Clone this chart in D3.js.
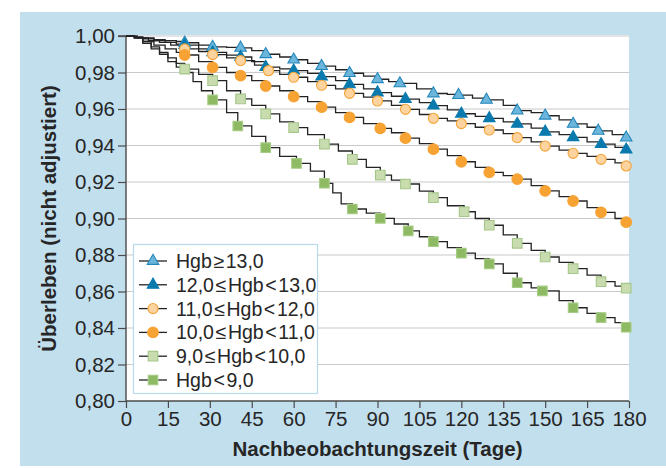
<!DOCTYPE html>
<html>
<head>
<meta charset="utf-8">
<script src="https://cdn.jsdelivr.net/npm/d3@7"></script>
<style>
  body { margin: 0; background: #fff; }
  svg { display: block; }
  text { font-family: "Liberation Sans", Arial, sans-serif; fill: #262626; }
</style>
</head>
<body>
<svg id="chart" width="666" height="468"></svg>
<script>
// Kaplan-Meier curves, days + survival
const days1 = [0,3,6,10,14,18,21,26,31,36,41,45,50,55,60,65,70,75,80,85,90,94,98,104,110,115,119,124,129,135,140,145,150,155,160,165,169,174,179,180];
const surv1 = [1,0.9995,0.999,0.998,0.9975,0.997,0.9963,0.995,0.994,0.9938,0.9935,0.992,0.990,0.9885,0.987,0.985,0.9835,0.9815,0.9796,0.978,0.9763,0.975,0.974,0.971,0.9685,0.968,0.9676,0.966,0.965,0.962,0.9591,0.958,0.9563,0.954,0.9518,0.950,0.948,0.946,0.9443,0.9443];
const marks1 = [21,31,41,50,60,70,80,90,98,110,119,129,140,150,160,169,179];

const days2 = [0,3,6,10,14,18,21,26,31,36,41,45,50,55,60,65,70,75,80,85,90,95,100,105,110,115,120,125,130,135,140,145,150,155,160,165,170,175,179,180];
const surv2 = [1,0.9993,0.9985,0.9975,0.9965,0.9955,0.995,0.993,0.991,0.9895,0.9885,0.986,0.983,0.982,0.981,0.9795,0.9777,0.9755,0.9735,0.971,0.969,0.967,0.9654,0.9635,0.9618,0.9595,0.9574,0.956,0.9549,0.953,0.9518,0.9495,0.9475,0.946,0.9445,0.942,0.9407,0.939,0.9377,0.9377];
const marks2 = [21,31,41,50,60,70,80,90,100,110,120,130,140,150,160,170,179];

const days3 = [0,4,8,12,16,21,26,31,36,41,46,51,55,60,65,70,75,80,85,90,95,100,105,110,115,120,125,130,135,140,145,150,155,160,165,170,175,179,180];
const surv3 = [1,0.999,0.9975,0.9965,0.995,0.9929,0.9915,0.9898,0.988,0.9865,0.984,0.981,0.979,0.9774,0.975,0.973,0.971,0.9686,0.9665,0.9644,0.962,0.9598,0.957,0.9549,0.9535,0.952,0.950,0.9485,0.9465,0.9443,0.942,0.9397,0.9375,0.9357,0.934,0.9324,0.9305,0.9288,0.9288];
const marks3 = [21,31,41,51,60,70,80,90,100,110,120,130,140,150,160,170,179];

const days4 = [0,3,6,10,14,18,21,26,31,36,41,45,50,55,60,65,70,75,80,85,91,95,100,105,110,115,120,125,130,135,140,145,150,155,160,165,170,175,179,180];
const surv4 = [1,0.999,0.997,0.995,0.993,0.991,0.9896,0.986,0.9828,0.980,0.9783,0.9755,0.9726,0.970,0.9668,0.964,0.961,0.958,0.9554,0.952,0.9494,0.947,0.944,0.941,0.938,0.9345,0.9311,0.928,0.9253,0.9235,0.9216,0.918,0.9151,0.912,0.9096,0.906,0.9034,0.900,0.898,0.898];
const marks4 = [21,31,41,50,60,70,80,91,100,110,120,130,140,150,160,170,179];

const days5 = [0,3,6,9,12,15,18,21,26,31,36,41,45,50,55,60,65,71,76,81,86,91,95,100,105,110,115,121,125,130,135,140,145,150,155,160,165,170,175,179,180];
const surv5 = [1,0.999,0.997,0.994,0.991,0.988,0.985,0.9819,0.979,0.9755,0.970,0.9655,0.962,0.9573,0.953,0.9498,0.946,0.9408,0.937,0.9324,0.928,0.9238,0.921,0.9189,0.915,0.9114,0.907,0.9037,0.900,0.8963,0.891,0.8864,0.8825,0.8789,0.876,0.8725,0.869,0.8654,0.863,0.8618,0.8618];
const marks5 = [21,31,41,50,60,71,81,91,100,110,121,130,140,150,160,170,179];

const days6 = [0,3,6,9,12,15,18,21,24,27,31,36,40,45,50,55,61,66,71,74,77,81,86,91,96,101,105,110,115,120,125,130,135,140,145,149,155,160,165,170,175,179,180];
const surv6 = [1,0.999,0.996,0.993,0.990,0.986,0.983,0.980,0.975,0.970,0.965,0.958,0.9507,0.945,0.9388,0.934,0.9302,0.926,0.9193,0.914,0.908,0.9052,0.903,0.9001,0.897,0.8932,0.890,0.8873,0.884,0.881,0.878,0.8751,0.870,0.8648,0.862,0.8603,0.855,0.8511,0.848,0.8457,0.843,0.8404,0.8404];
const marks6 = [31,40,50,61,71,81,91,101,110,120,130,140,149,160,170,179];

const groupLabels = ["Hgb\u200a\u2265\u200a13,0", "12,0\u200a\u2264\u200aHgb\u200a<\u200a13,0", "11,0\u200a\u2264\u200aHgb\u200a<\u200a12,0",
                     "10,0\u200a\u2264\u200aHgb\u200a<\u200a11,0", "9,0\u200a\u2264\u200aHgb\u200a<\u200a10,0", "Hgb\u200a<\u200a9,0"];
const xTicks = [0,15,30,45,60,75,90,105,120,135,150,165,180];
const yTicks = [0.80,0.82,0.84,0.86,0.88,0.90,0.92,0.94,0.96,0.98,1.00];

// marker looks per group
const styles = [
  {shape: d3.symbolTriangle, size: 58, fill: "#6cb6dc", stroke: "#2487bb"},
  {shape: d3.symbolTriangle, size: 58, fill: "#0a7aae", stroke: "#0a7aae"},
  {shape: d3.symbolCircle, size: 80, fill: "#fdd4a0", stroke: "#f4a437"},
  {shape: d3.symbolCircle, size: 90, fill: "#f7a334", stroke: "#f7a334"},
  {shape: d3.symbolSquare, size: 92, fill: "#c9dcb0", stroke: "#a5c788"},
  {shape: d3.symbolSquare, size: 92, fill: "#8dba62", stroke: "#a7cc85"}
];

const series = [
  {days: days1, surv: surv1, marks: marks1},
  {days: days2, surv: surv2, marks: marks2},
  {days: days3, surv: surv3, marks: marks3},
  {days: days4, surv: surv4, marks: marks4},
  {days: days5, surv: surv5, marks: marks5},
  {days: days6, surv: surv6, marks: marks6}
];

var frame = {left: 20, top: 12},
    plot = {left: 126, right: 629, top: 36, bottom: 401};

const svg = d3.select('#chart');

// blue frame + white plot area
svg.append('rect').attr('x', frame.left).attr('y', frame.top)
  .attr('width', 666 - frame.left).attr('height', 468 - frame.top - 2)
  .attr('fill', '#c2dfee');
svg.append('rect').attr('x', plot.left).attr('y', plot.top - 1)
  .attr('width', plot.right - plot.left).attr('height', plot.bottom - plot.top + 1)
  .attr('fill', '#fff');

var x = d3.scaleLinear().domain([0, 180]).range([plot.left, plot.right]);
var y = d3.scaleLinear().domain([0.8, 1.0]).range([plot.bottom, plot.top]);

// gridlines
svg.append('g').selectAll('line')
  .data(yTicks.slice(1))
  .enter().append('line')
  .attr('x1', plot.left).attr('x2', plot.right)
  .attr('y1', d => y(d)).attr('y2', d => y(d))
  .attr('stroke', '#c9c9c9').attr('stroke-width', 1.2);

const fmt = d => d3.format('.2f')(d).replace('.', ',');

// axes
var yAxis = svg.append('g')
  .attr('transform', `translate(${plot.left},0)`)
  .call(d3.axisLeft(y).tickValues(yTicks).tickFormat(fmt).tickSize(8).tickPadding(3));
var xAxis = svg.append('g')
  .attr('transform', `translate(0,${plot.bottom})`)
  .call(d3.axisBottom(x).tickValues(xTicks).tickSize(7).tickPadding(3));

[yAxis, xAxis].forEach(a => {
  a.select('.domain').attr('stroke', '#4a4a4a').attr('stroke-width', 1.4);
  a.selectAll('.tick line').attr('stroke', '#4a4a4a').attr('stroke-width', 1.2);
  a.selectAll('text').attr('font-size', 20.5).attr('fill', '#2a2a2a')
    .attr('font-family', '"Liberation Sans", Arial, sans-serif');
});
yAxis.select('.domain').attr('d', `M-8,${plot.top}H0V${plot.bottom}`);
xAxis.select('.domain').attr('d', `M${plot.left},0H${plot.right}`);

// curves
var line = d3.line().curve(d3.curveStepAfter);
series.forEach(s => {
  svg.append('path')
    .attr('d', line(s.days.map((d, i) => [x(d), y(s.surv[i])])))
    .attr('fill', 'none').attr('stroke', '#232323').attr('stroke-width', 1.3);
});

// markers sit on the step value at their day
series.forEach((s, k) => {
  const st = styles[k];
  svg.append('g').selectAll('path')
    .data(s.marks)
    .enter().append('path')
    .attr('d', d3.symbol().type(st.shape).size(st.size))
    .attr('transform', m => {
      const i = d3.bisectRight(s.days, m) - 1;
      return `translate(${x(m)},${y(s.surv[i])})`;
    })
    .attr('fill', st.fill).attr('stroke', st.stroke).attr('stroke-width', 1.1);
});

// legend
var legend = svg.append('g');
legend.append('rect').attr('x', 133.5).attr('y', 244.5).attr('width', 184).attr('height', 149)
  .attr('fill', '#fff').attr('stroke', '#b9d9ec').attr('stroke-width', 1.2);
groupLabels.forEach((lab, k) => {
  const ly = 261 + k * 23.8, st = styles[k];
  legend.append('line').attr('x1', 139).attr('x2', 167).attr('y1', ly).attr('y2', ly)
    .attr('stroke', '#232323').attr('stroke-width', 1.3);
  legend.append('path').attr('d', d3.symbol().type(st.shape).size(st.size))
    .attr('transform', `translate(153,${ly})`)
    .attr('fill', st.fill).attr('stroke', st.stroke).attr('stroke-width', 1.1);
  legend.append('text').attr('x', 176).attr('y', ly + 7).attr('font-size', 19.5).text(lab);
});

// axis titles
svg.append('text')
  .attr('x', (plot.left + plot.right) / 2).attr('y', 456)
  .attr('text-anchor', 'middle').attr('font-weight', 'bold').attr('font-size', 20.5)
  .text('Nachbeobachtungszeit (Tage)');
svg.append('text')
  .attr('transform', `translate(56,${(plot.top + plot.bottom) / 2}) rotate(-90)`)
  .attr('text-anchor', 'middle').attr('font-weight', 'bold').attr('font-size', 20.5)
  .text('Überleben (nicht adjustiert)');
</script>
</body>
</html>
